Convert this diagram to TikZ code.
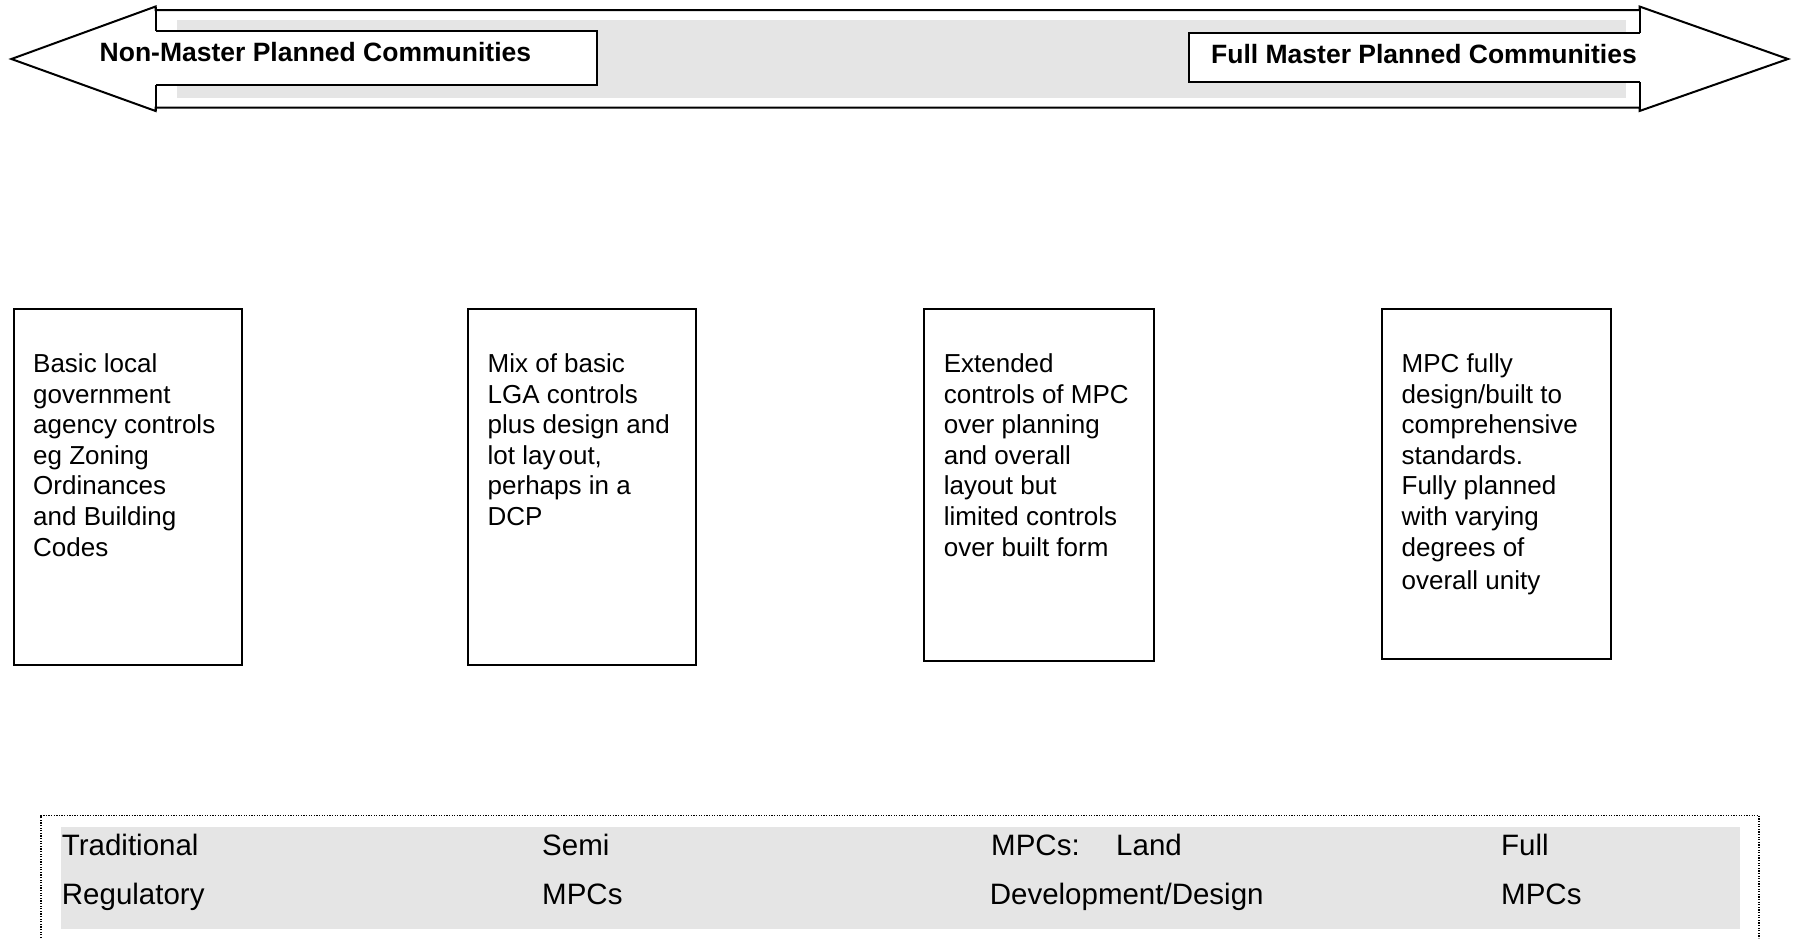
\documentclass[tikz,border=0pt]{standalone}
\usepackage{fontspec}
\setmainfont{Liberation Sans}
\definecolor{bandgray}{RGB}{229,229,229}
\begin{document}
\begin{tikzpicture}[x=1pt,y=-1pt,line join=miter]
\tikzset{
  outl/.style={draw=black, line width=2pt},
  infobox/.style={outl, fill=white, inner sep=0pt, anchor=north west},
  bodytxt/.style={anchor=base west, inner sep=0pt, font=\fontsize{26}{30.6}\selectfont},
  headtxt/.style={anchor=base west, inner sep=0pt, font=\fontsize{26.5}{30}\selectfont\bfseries},
  bandtxt/.style={anchor=base west, inner sep=0pt, font=\fontsize{29.5}{35}\selectfont},
}
\useasboundingbox (0,0) rectangle (1794,938);
\fill[white] (0,0) rectangle (1794,938);
% double arrow
\filldraw[outl, fill=white] (11.4,59) -- (155.6,6.5) -- (155.6,10) -- (1639.5,10) -- (1639.5,6.5)
  -- (1788,59) -- (1639.5,111) -- (1639.5,107.5) -- (155.6,107.5) -- (155.6,111) -- cycle;
\draw[outl] (155.6,6.5) -- (155.6,111);
\draw[outl] (1639.5,6.5) -- (1639.5,111);
\fill[bandgray] (177,19.5) rectangle (1626,97.5);
% left label box (open on the left)
\fill[white] (154.2,31) rectangle (597,84.5);
\draw[outl] (155.6,31) -- (597,31) -- (597,84.5) -- (155.6,84.5);
% right label box (open on the right)
\fill[white] (1189,33.3) rectangle (1640.9,82.3);
\draw[outl] (1639.5,33.3) -- (1189,33.3) -- (1189,82.3) -- (1639.5,82.3);
\node[headtxt] (lhead) at (99.5,61) {Non-Master Planned Communities};
\node[headtxt] (rhead) at (1211,63) {Full Master Planned Communities};
% four boxes
\node[infobox, minimum width=228.8pt, minimum height=355.8pt] (b1) at (12.6,307.8) {};
\node[infobox, minimum width=227.7pt, minimum height=355.8pt] (b2) at (466.8,307.8) {};
\node[infobox, minimum width=230pt, minimum height=352.2pt] (b3) at (923.3,307.8) {};
\node[infobox, minimum width=228.8pt, minimum height=350.1pt] (b4) at (1381,307.8) {};
\node[bodytxt] (t1) at (33,372.5) {\parbox[t]{205pt}{\raggedright Basic local\\ government\\ agency controls\\ eg Zoning\\ Ordinances\\ and Building\\ Codes}};
\node[bodytxt] (t2) at (487.5,372.5) {\parbox[t]{205pt}{\raggedright Mix of basic\\ LGA controls\\ plus design and\\ lot lay\hspace{3pt}out,\\ perhaps in a\\ DCP}};
\node[bodytxt] (t3) at (943.6,372.5) {\parbox[t]{205pt}{\raggedright Extended\\ controls of MPC\\ over planning\\ and overall\\ layout but\\ limited controls\\ over built form}};
\node[bodytxt] (t4) at (1401.4,372.5) {\parbox[t]{205pt}{\raggedright MPC fully\\ design/built to\\ comprehensive\\ standards.\\ Fully planned\\ with varying\\ degrees of\\[3pt] overall unity}};
% bottom band
\draw[line width=1.3pt, dash pattern=on 1.3pt off 1.3pt] (41,938) -- (41,815.5) -- (1759,815.5) -- (1759,938);
\fill[bandgray] (60.6,827) rectangle (1740,929);
\node[bandtxt] (c1a) at (61.7,855) {Traditional};
\node[bandtxt] (c1b) at (61.7,904) {Regulatory};
\node[bandtxt] (c2a) at (542,855) {Semi};
\node[bandtxt] (c2b) at (542,904) {MPCs};
\node[bandtxt] (c3a) at (991,855) {MPCs:};
\node[bandtxt] (c3l) at (1116,855) {Land};
\node[bandtxt] (c3b) at (989.6,904) {Development/Design};
\node[bandtxt] (c4a) at (1501,855) {Full};
\node[bandtxt] (c4b) at (1501,904) {MPCs};
\end{tikzpicture}
\end{document}
